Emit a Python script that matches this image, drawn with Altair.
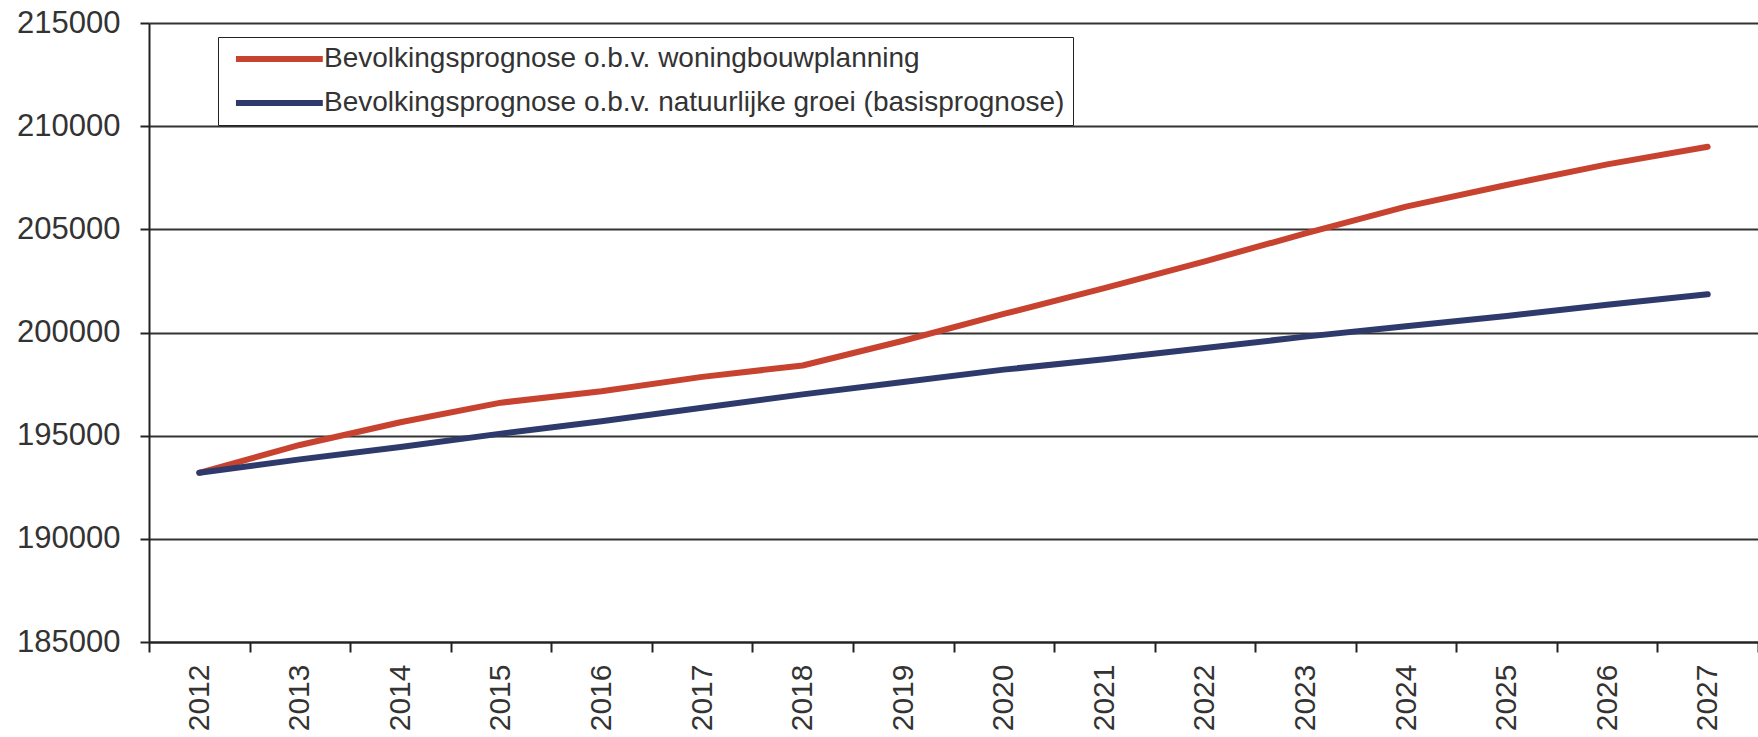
import altair as alt
import pandas as pd

years = [str(y) for y in range(2012, 2028)]
woningbouw = [193200, 194550, 195650, 196600, 197150, 197850, 198400, 199600,
              200900, 202150, 203450, 204800, 206100, 207150, 208150, 209000]
natuurlijk = [193200, 193850, 194450, 195100, 195700, 196350, 197000, 197600,
              198200, 198700, 199250, 199800, 200300, 200800, 201350, 201850]
series_names = ["Bevolkingsprognose o.b.v. woningbouwplanning",
                "Bevolkingsprognose o.b.v. natuurlijke groei (basisprognose)"]
series_colors = ["#C8432F", "#2E3A6B"]
y_ticks = [185000, 190000, 195000, 200000, 205000, 210000, 215000]

rows = []
for name, vals in zip(series_names, [woningbouw, natuurlijk]):
    for yr, v in zip(years, vals):
        rows.append({"jaar": yr, "inwoners": v, "reeks": name})
df = pd.DataFrame(rows)

FONT = "Liberation Sans"

chart = alt.Chart(df).mark_line(strokeWidth=6, strokeCap="round", strokeJoin="round").encode(
    x=alt.X("jaar:O", sort=years, bandPosition=0.5,
            scale=alt.Scale(type="band", paddingInner=0, paddingOuter=0),
            axis=alt.Axis(title=None, labelAngle=-90, tickBand="extent",
                          labelFontSize=30, labelFont=FONT, labelColor="#333333",
                          labelPadding=12, tickSize=10, tickColor="#222222",
                          domainColor="#222222", domainWidth=2, tickWidth=2,
                          grid=False)),
    y=alt.Y("inwoners:Q",
            scale=alt.Scale(domain=[185000, 215000], nice=False, zero=False),
            axis=alt.Axis(title=None, values=y_ticks, format="d",
                          labelFontSize=31, labelFont=FONT, labelColor="#333333",
                          labelPadding=20, tickSize=9, tickColor="#222222",
                          tickWidth=2, domainColor="#222222", domainWidth=2,
                          grid=True, gridColor="#333333", gridWidth=2)),
    color=alt.Color("reeks:N", sort=series_names,
                    scale=alt.Scale(domain=series_names, range=series_colors),
                    legend=alt.Legend(orient="none", legendX=69, legendY=14,
                                      title=None, symbolType="M-0.4,0L8.2,0",
                                      symbolSize=408, symbolStrokeWidth=6,
                                      labelFontSize=28, labelFont=FONT,
                                      labelColor="#333333", labelLimit=2000,
                                      labelOffset=70, padding=8,
                                      strokeColor="#222222", fillColor="white",
                                      rowPadding=16)),
).properties(
    width=1609, height=619,
    autosize=alt.AutoSizeParams(type="none"),
    padding={"left": 149, "top": 23, "right": 0, "bottom": 95},
    background="white",
).configure_view(strokeWidth=0)

chart.save("out.html", embed_options={"renderer": "svg", "actions": False})
